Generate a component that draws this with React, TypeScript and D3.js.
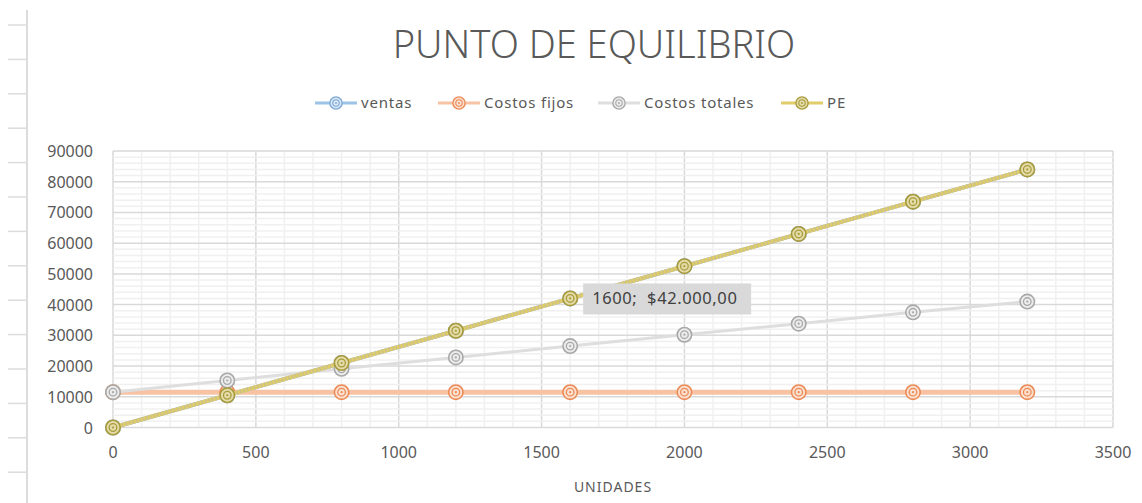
import { useEffect, useRef } from "react";
import * as d3 from "d3";

const unidades = [0, 400, 800, 1200, 1600, 2000, 2400, 2800, 3200];
const ventas = [0, 10500, 21000, 31500, 42000, 52500, 63000, 73500, 84000];
const costosFijos = [11500, 11500, 11500, 11500, 11500, 11500, 11500, 11500, 11500];
const costosTotales = [11500, 15300, 19100, 22800, 26500, 30200, 33800, 37500, 41000];
const pe = [0, 10500, 21000, 31500, 42000, 52500, 63000, 73500, 84000];
const xTicks = [0, 500, 1000, 1500, 2000, 2500, 3000, 3500];
const yTicks = [0, 10000, 20000, 30000, 40000, 50000, 60000, 70000, 80000, 90000];

const W = 1142,
  H = 503;
const FONT = "'Noto Sans', 'Open Sans', sans-serif";
const TEXT = "#595959";

const App = () => {
  const ref = useRef<SVGSVGElement>(null);

  useEffect(() => {
    document.body.style.margin = "0";
    const svg = d3.select(ref.current);
    svg.selectAll("*").remove();

    const x = d3.scaleLinear().domain([0, 3500]).range([113, 1113]);
    const y = d3.scaleLinear().domain([0, 90000]).range([427.5, 151]);

    // spreadsheet edge behind the chart
    const edge = svg.append("g");
    edge
      .append("line")
      .attr("x1", 27)
      .attr("x2", 27)
      .attr("y1", 10)
      .attr("y2", H)
      .attr("stroke", "#dcdcdc")
      .attr("stroke-width", 2);
    d3.range(14).forEach((i) => {
      edge
        .append("line")
        .attr("x1", 8)
        .attr("x2", 27)
        .attr("y1", 25 + i * 34.4)
        .attr("y2", 25 + i * 34.4)
        .attr("stroke", "#dcdcdc")
        .attr("stroke-width", 1.5);
    });

    // grid
    const grid = svg.append("g");
    d3.range(0, 3501, 100).forEach((v) => {
      grid
        .append("line")
        .attr("x1", x(v))
        .attr("x2", x(v))
        .attr("y1", y(0))
        .attr("y2", y(90000))
        .attr("stroke", v % 500 === 0 ? "#d9d9d9" : "#f0f0f0")
        .attr("stroke-width", 1.5);
    });
    d3.range(0, 90001, 2000).forEach((v) => {
      grid
        .append("line")
        .attr("x1", x(0))
        .attr("x2", x(3500))
        .attr("y1", y(v))
        .attr("y2", y(v))
        .attr("stroke", v % 10000 === 0 ? "#d9d9d9" : "#f0f0f0")
        .attr("stroke-width", 1.5);
    });

    // axes labels
    svg
      .append("g")
      .selectAll("text")
      .data(yTicks)
      .enter()
      .append("text")
      .attr("x", 93)
      .attr("y", (d) => y(d) + 6)
      .attr("text-anchor", "end")
      .attr("font-family", FONT)
      .attr("font-size", 16)
      .attr("fill", TEXT)
      .text((d) => d);
    svg
      .append("g")
      .selectAll("text")
      .data(xTicks)
      .enter()
      .append("text")
      .attr("x", (d) => x(d))
      .attr("y", 458)
      .attr("text-anchor", "middle")
      .attr("font-family", FONT)
      .attr("font-size", 16)
      .attr("fill", TEXT)
      .text((d) => d);
    svg
      .append("text")
      .attr("x", 613)
      .attr("y", 492)
      .attr("text-anchor", "middle")
      .attr("font-family", FONT)
      .attr("font-size", 14)
      .attr("letter-spacing", 1)
      .attr("fill", TEXT)
      .text("UNIDADES");

    // title
    svg
      .append("text")
      .attr("x", 594)
      .attr("y", 58)
      .attr("text-anchor", "middle")
      .attr("font-family", FONT)
      .attr("font-weight", 300)
      .attr("font-size", 38)
      .attr("fill", TEXT)
      .text("PUNTO DE EQUILIBRIO");

    const drawMarker = (
      parent: d3.Selection<SVGGElement, unknown, null, undefined>,
      cx: number,
      cy: number,
      stroke: string,
      fill: string,
      scale = 1
    ) => {
      parent
        .append("circle")
        .attr("cx", cx)
        .attr("cy", cy)
        .attr("r", 7.2 * scale)
        .attr("fill", fill)
        .attr("stroke", stroke)
        .attr("stroke-width", 1.6 * scale);
      parent
        .append("circle")
        .attr("cx", cx)
        .attr("cy", cy)
        .attr("r", 3.8 * scale)
        .attr("fill", "none")
        .attr("stroke", stroke)
        .attr("stroke-width", 1.3 * scale);
      parent
        .append("circle")
        .attr("cx", cx)
        .attr("cy", cy)
        .attr("r", 1.1 * scale)
        .attr("fill", stroke);
    };

    const series = [
      { name: "ventas", values: ventas, line: "#9dc3e6", lw: 4, mk: "#7ba7d6", mf: "#dbe8f5", dash: "" },
      { name: "Costos fijos", values: costosFijos, line: "#f7c3a4", lw: 5, mk: "#eb8a55", mf: "#fbe0d0", dash: "" },
      { name: "Costos totales", values: costosTotales, line: "#dedede", lw: 3, mk: "#a8a8a8", mf: "#ececec", dash: "" },
      { name: "PE", values: pe, line: "#e0cd6a", lw: 4, mk: "#a99b3c", mf: "#e3dca8", dash: "2.2,1.4" },
    ];

    const line = d3
      .line<number>()
      .x((_, i) => x(unidades[i]))
      .y((d) => y(d));

    series.forEach((s) => {
      const g = svg.append("g");
      if (s.name === "PE") {
        g.append("path")
          .attr("d", line(s.values) as string)
          .attr("fill", "none")
          .attr("stroke", "#c9c08a")
          .attr("stroke-width", s.lw);
      }
      g.append("path")
        .attr("d", line(s.values) as string)
        .attr("fill", "none")
        .attr("stroke", s.line)
        .attr("stroke-width", s.lw)
        .attr("stroke-dasharray", s.dash || null);
      s.values.forEach((v, i) => drawMarker(g, x(unidades[i]), y(v), s.mk, s.mf));
    });

    // data label
    const lx = x(1600) + 13;
    const ly = y(42000);
    svg
      .append("rect")
      .attr("x", lx)
      .attr("y", ly - 15)
      .attr("width", 168)
      .attr("height", 31)
      .attr("fill", "#d9d9d9");
    svg
      .append("text")
      .attr("x", lx + 9)
      .attr("y", ly + 6)
      .attr("font-family", FONT)
      .attr("font-size", 16.5)
      .attr("letter-spacing", 0.6)
      .attr("fill", "#404040")
      .text("1600;\u00a0 $42.000,00");

    // legend
    const legendX = [315, 438, 598, 781];
    const lg = svg.append("g");
    series.forEach((s, i) => {
      const lx0 = legendX[i];
      const ly0 = 103;
      lg.append("line")
        .attr("x1", lx0)
        .attr("x2", lx0 + 42)
        .attr("y1", ly0)
        .attr("y2", ly0)
        .attr("stroke", s.line)
        .attr("stroke-width", 3);
      drawMarker(lg, lx0 + 21, ly0, s.mk, s.mf, 0.85);
      lg.append("text")
        .attr("x", lx0 + 46)
        .attr("y", ly0 + 5)
        .attr("font-family", FONT)
        .attr("font-size", 15)
        .attr("letter-spacing", 0.8)
        .attr("fill", TEXT)
        .text(s.name);
    });
  }, []);

  return <svg ref={ref} width={W} height={H} style={{ display: "block", background: "#fff" }} />;
};

export default App;
